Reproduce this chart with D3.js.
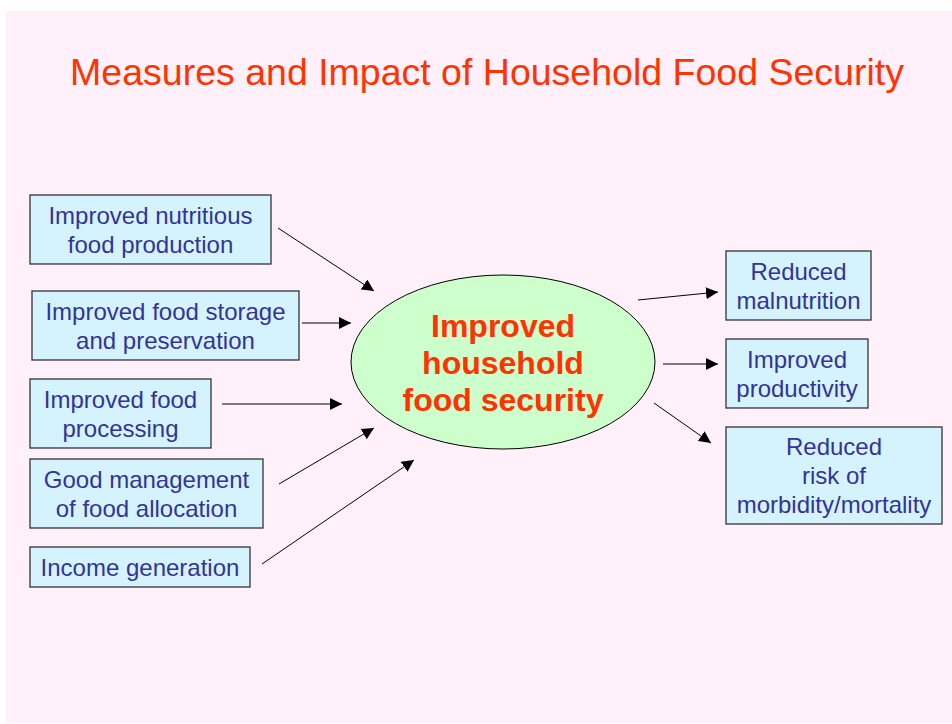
<!DOCTYPE html>
<html>
<head>
<meta charset="utf-8">
<script src="https://cdn.jsdelivr.net/npm/d3@7"></script>
<style>
  body { margin: 0; background: #fff; }
  text { font-family: "Liberation Sans", Arial, sans-serif; }
</style>
</head>
<body>
<svg width="952" height="724"></svg>
<script>
// labels
const title = "Measures and Impact of Household Food Security";
const centreLabel = ["Improved", "household", "food security"];
const inputs = [
  ["Improved nutritious", "food production"],
  ["Improved food storage", "and preservation"],
  ["Improved food", "processing"],
  ["Good management", "of food allocation"],
  ["Income generation"]
];
const outputs = [
  ["Reduced", "malnutrition"],
  ["Improved", "productivity"],
  ["Reduced", "risk of", "morbidity/mortality"]
];

// layout: boxes [x, y, w, h] and arrows [x1, y1, x2, y2]
const inputBoxes = [[30, 195, 241, 69], [32, 291, 267, 69], [30, 379, 181, 69], [30, 459, 233, 69], [30, 547, 220, 40]];
const outputBoxes = [[726, 251, 145, 69], [726, 339, 142, 69], [726, 427, 216, 97]];
const inputArrows = [[278, 228, 374, 291], [302, 323, 351, 323], [222, 404, 342, 404], [279, 484, 374, 428], [262, 564, 414, 460]];
const outputArrows = [[638, 300, 718, 292], [663, 364, 718, 364], [654, 403, 711, 443]];

const svg = d3.select("svg");
const blue = "#333399", red = "#ff3300";

svg.append("rect").attr("x", 6).attr("y", 11).attr("width", 946).attr("height", 712).attr("fill", "#fff0fa");

svg.append("defs").append("marker")
    .attr("id", "head")
    .attr("viewBox", "0 0 10 10")
    .attr("refX", 10).attr("refY", 5)
    .attr("markerWidth", 12).attr("markerHeight", 12)
    .attr("markerUnits", "userSpaceOnUse")
    .attr("orient", "auto")
  .append("path")
    .attr("d", "M0,0L10,5L0,10Z")
    .attr("fill", "#000");

svg.append("text")
    .attr("x", 487).attr("y", 85)
    .attr("text-anchor", "middle")
    .attr("font-size", "37.5px")
    .attr("fill", red)
    .text(title);

function drawBoxes(labels, boxes) {
  const g = svg.append("g").selectAll("g")
    .data(labels.map((l, i) => ({ lines: l, b: boxes[i] })))
    .join("g");
  g.append("rect")
    .attr("x", d => d.b[0]).attr("y", d => d.b[1])
    .attr("width", d => d.b[2]).attr("height", d => d.b[3])
    .attr("fill", "#d5f3fe")
    .attr("stroke", "#333")
    .attr("stroke-width", 1.3);
  g.each(function(d) {
    const cx = d.b[0] + d.b[2] / 2;
    const top = d.b[1] + d.b[3] / 2 - (d.lines.length - 1) * 14.5 + 8.5;
    d3.select(this).selectAll("text")
      .data(d.lines)
      .join("text")
      .attr("x", cx)
      .attr("y", (t, i) => top + i * 29)
      .attr("text-anchor", "middle")
      .attr("font-size", "24px")
      .attr("fill", blue)
      .text(t => t);
  });
}

function drawArrows(list) {
  svg.append("g").selectAll("line")
    .data(list)
    .join("line")
    .attr("x1", d => d[0]).attr("y1", d => d[1])
    .attr("x2", d => d[2]).attr("y2", d => d[3])
    .attr("stroke", "#000")
    .attr("stroke-width", 1)
    .attr("marker-end", "url(#head)");
}

drawBoxes(inputs, inputBoxes);
drawBoxes(outputs, outputBoxes);
drawArrows(inputArrows);
drawArrows(outputArrows);

svg.append("ellipse")
    .attr("cx", 503).attr("cy", 362)
    .attr("rx", 152).attr("ry", 87)
    .attr("fill", "#ccffcc")
    .attr("stroke", "#000")
    .attr("stroke-width", 1);

svg.append("g").selectAll("text")
  .data(centreLabel)
  .join("text")
    .attr("x", 503)
    .attr("y", (d, i) => 337 + i * 37)
    .attr("text-anchor", "middle")
    .attr("font-size", "32px")
    .attr("font-weight", "bold")
    .attr("fill", red)
    .text(d => d);
</script>
</body>
</html>
